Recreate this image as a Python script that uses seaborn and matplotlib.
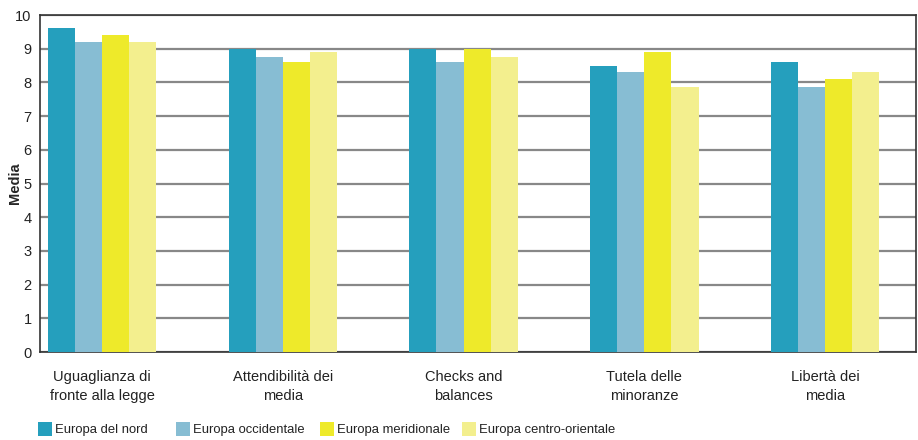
import matplotlib
matplotlib.use("Agg")
import matplotlib.pyplot as plt
import seaborn as sns
import pandas as pd
from matplotlib.patches import Patch

categories = [
    "Uguaglianza di\nfronte alla legge",
    "Attendibilità dei\nmedia",
    "Checks and\nbalances",
    "Tutela delle\nminoranze",
    "Libertà dei\nmedia",
]
regions = ["Europa del nord", "Europa occidentale", "Europa meridionale", "Europa centro-orientale"]
nord = [9.6, 9.0, 9.0, 8.5, 8.6]
occidentale = [9.2, 8.75, 8.6, 8.3, 7.85]
meridionale = [9.4, 8.6, 9.0, 8.9, 8.1]
centro_orientale = [9.2, 8.9, 8.75, 7.85, 8.3]
colors = ["#259fbd", "#87bdd3", "#eeea2a", "#f3ef8e"]

series = [nord, occidentale, meridionale, centro_orientale]
df = pd.DataFrame(
    [(c, r, v) for r, vals in zip(regions, series) for c, v in zip(categories, vals)],
    columns=["categoria", "regione", "media"],
)

sns.set_style("white")
plt.rcParams["font.family"] = ["Liberation Sans", "DejaVu Sans"]

fig = plt.figure(figsize=(9.18, 4.4), dpi=100)
ax = fig.add_axes([40 / 918, 1 - 352 / 440, 876 / 918, 337 / 440])

sns.barplot(
    data=df, x="categoria", y="media", hue="regione",
    order=categories, hue_order=regions, palette=colors,
    width=0.6, saturation=1, legend=False, ax=ax, zorder=3,
    linewidth=0, edgecolor="none",
)

ax.set_ylim(0, 10)
ax.set_xlim(-0.343, 4.503)
ax.set_yticks(range(0, 11))
ax.grid(axis="y", color="#888888", linewidth=1.6, zorder=0)
ax.set_axisbelow(True)
for s in ax.spines.values():
    s.set_visible(True)
    s.set_color("#333333")
    s.set_linewidth(1.2)

ax.tick_params(axis="y", length=3, width=1, color="#333333", labelsize=10.5, labelcolor="#222222", pad=3)
ax.tick_params(axis="x", length=0, labelsize=10.5, labelcolor="#222222", pad=13)
for lbl in ax.get_xticklabels():
    lbl.set_linespacing(1.45)
ax.set_xlabel("")
ax.set_ylabel("Media", fontsize=10.5, fontweight="bold")
ax.yaxis.set_label_coords(-0.021, 0.5)

# Legend entries laid out in evenly spaced slots along the bottom
slot_x = [38, 176, 320, 462]
for x0, color, name in zip(slot_x, colors, regions):
    fig.legend(
        [Patch(facecolor=color, edgecolor="none")], [name],
        loc="center left", bbox_to_anchor=(x0 / 918, 1 - 429 / 440),
        frameon=False, fontsize=9.4, handlelength=1.07, handleheight=1.3,
        handletextpad=0.25, labelcolor="#222222",
        borderaxespad=0, borderpad=0,
    )

fig.savefig("out.png", dpi=100)
